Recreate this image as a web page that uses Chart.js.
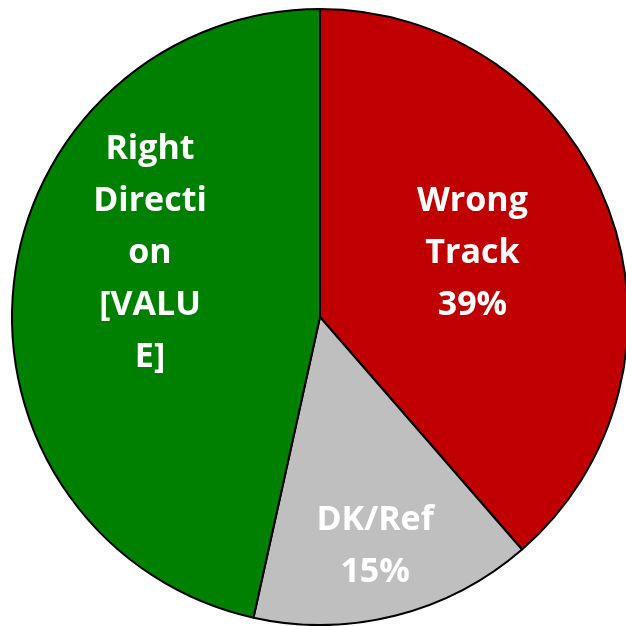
<!DOCTYPE html>
<html>
<head>
<meta charset="utf-8">
<script src="https://cdn.jsdelivr.net/npm/chart.js@4/dist/chart.umd.min.js"></script>
<style>
html, body { margin: 0; padding: 0; background: #fff; overflow: hidden; }
#wrap { position: relative; width: 640px; height: 626px; }
</style>
</head>
<body>
<div id="wrap"><canvas id="pie" width="640" height="626"></canvas></div>
<script>
// slices, clockwise from 12 o'clock
var categories = ['Wrong Track', 'DK/Ref', 'Right Direction'];
var values = [39, 15, 47];
var colors = ['#C00000', '#BFBFBF', '#008000'];
// text shown inside each slice, one entry per line
var labelLines = [
	['Wrong', 'Track', '39%'],
	['DK/Ref', '15%'],
	['Right', 'Directi', 'on', '[VALU', 'E]']
];
// where each label block sits, as a fraction of the radius from the centre
var labelOffset = [[0.495, -0.208], [0.179, 0.743], [-0.552, -0.208]];

var sliceLabels = {
	id: 'sliceLabels',
	afterDatasetsDraw: function(chart) {
		var ctx = chart.ctx;
		var arcs = chart.getDatasetMeta(0).data;
		ctx.save();
		ctx.fillStyle = '#ffffff';
		ctx.font = 'bold 34px "Open Sans"';
		ctx.textAlign = 'center';
		ctx.textBaseline = 'middle';
		var lh = 52;
		for (var i = 0; i < arcs.length; i++) {
			var a = arcs[i];
			var cx = a.x + labelOffset[i][0] * a.outerRadius;
			var cy = a.y + labelOffset[i][1] * a.outerRadius;
			var lines = labelLines[i];
			var top = cy - (lines.length - 1) * lh / 2;
			for (var j = 0; j < lines.length; j++) {
				ctx.fillText(lines[j], cx, top + j * lh);
			}
		}
		ctx.restore();
	}
};

new Chart(document.getElementById('pie'), {
	type: 'pie',
	data: {
		labels: categories,
		datasets: [{
			data: values,
			backgroundColor: colors,
			borderColor: '#000000',
			borderWidth: 2
		}]
	},
	options: {
		responsive: false,
		animation: false,
		layout: { padding: { left: 11, right: 11, top: 8, bottom: 0 } },
		plugins: {
			legend: { display: false },
			tooltip: { enabled: false }
		}
	},
	plugins: [sliceLabels]
});
</script>
</body>
</html>
